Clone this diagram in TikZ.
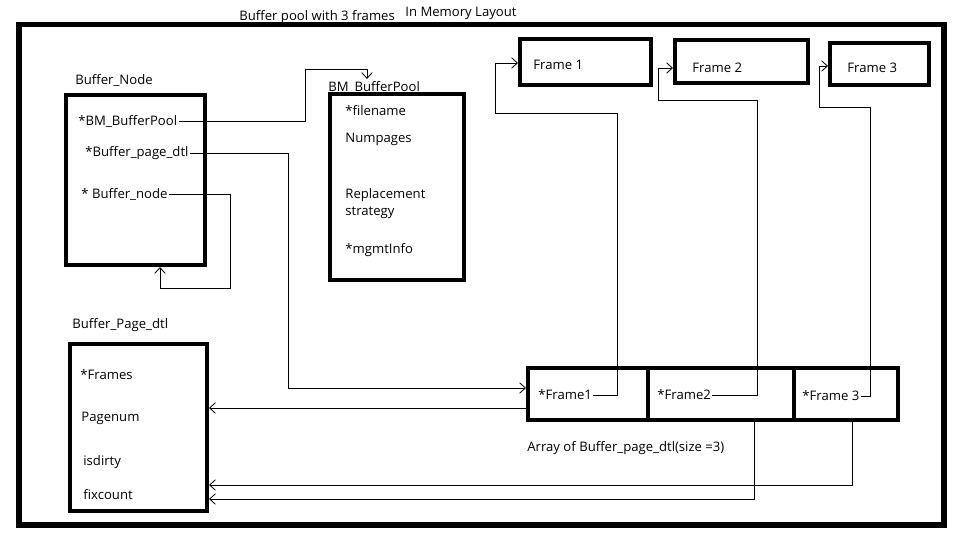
\documentclass[tikz,border=0pt]{standalone}
\usepackage{fontspec}
\setmainfont{Open Sans}
\usetikzlibrary{fit,arrows.meta}

\tikzset{
  box/.style={draw,line width=3.4pt,inner sep=0pt},
  txt/.style={anchor=west,inner sep=1pt,font=\fontsize{11.2}{13}\selectfont},
  ptr/.style={line width=0.7pt,-{Straight Barb[length=5pt,width=9pt]}}
}

\begin{document}
\begin{tikzpicture}[x=0.03cm,y=-0.03cm]
  \useasboundingbox (0,0) rectangle (960,540);
  \draw[line width=4.4pt] (19,24.5) rectangle (944,525);

  \node[txt] (title) at (238,17) {Buffer pool with 3 frames};
  \node[txt] (layout) at (404,13) {In Memory Layout};

  % Buffer_Node
  \node[txt] (bnlabel) at (74,80) {Buffer\_Node};
  \node[box,fit={(66,95) (205,265)}] (bnode) {};
  \node[txt] (bmp) at (77,121) {*BM\_BufferPool};
  \node[txt] (bpd) at (84,153) {*Buffer\_page\_dtl};
  \node[txt] (bnd) at (80,194) {* Buffer\_node};

  % BM_BufferPool
  \node[txt] (bplabel) at (327,87) {BM\_BufferPool};
  \coordinate (bpin) at (367,79);
  \node[box,fit={(330,94) (464,280)}] (bpool) {};
  \node[txt] (fname) at (344,111) {*filename};
  \node[txt] (npages) at (344,139) {Numpages};
  \node[txt] (repl) at (344,195) {Replacement};
  \node[txt] (strat) at (344,213) {strategy};
  \node[txt] (mgmt) at (344,250) {*mgmtInfo};

  % frames
  \node[box,fit={(520,39) (651,85)}] (frame1) {};
  \node[box,fit={(675,40) (808,83)}] (frame2) {};
  \node[box,fit={(830,43) (929,85)}] (frame3) {};
  \node[txt] (f1) at (532,65) {Frame 1};
  \node[txt] (f2) at (691,68) {Frame 2};
  \node[txt] (f3) at (846,68) {Frame 3};

  % Buffer_Page_dtl
  \node[txt] (pdlabel) at (71,325) {Buffer\_Page\_dtl};
  \node[box,fit={(70,344) (207,511)}] (pdbox) {};
  \node[txt] (frames) at (79,375) {*Frames};
  \node[txt] (pnum) at (80,418) {Pagenum};
  \node[txt] (dirty) at (82,462) {isdirty};
  \node[txt] (fix) at (82,495) {fixcount};

  % array of Buffer_page_dtl
  \node[box,fit={(528,368) (648,420)}] (cell1) {};
  \node[box,fit={(648,368) (794,420)}] (cell2) {};
  \node[box,fit={(794,368) (898,420)}] (cell3) {};
  \node[txt] (fr1p) at (537,395) {*Frame1};
  \node[txt] (fr2p) at (656,395) {*Frame2};
  \node[txt] (fr3p) at (801,396) {*Frame 3};
  \node[txt] (arrlabel) at (526,448) {Array of Buffer\_page\_dtl(size =3)};

  \draw[ptr] (bmp.east) -| (305,69) -| (bpin);
  \draw[ptr] (bpd.east) -| (288,388) -- (cell1.west |- 0,388);
  \draw[ptr] (bnd.east) -| (230,288) -| (160,0 |- bnode.south);
  \draw[ptr] (cell1.west |- 0,408) -- (pdbox.east |- 0,408);
  \draw[ptr] (fr1p.east) -| (617,113) -| (495,63) -- (frame1.west |- 0,63);
  \draw[ptr] (fr2p.east) -| (757,100) -| (658,68) -- (frame2.west |- 0,68);
  \draw[ptr] (fr3p.east) -| (870,107) -| (819,66) -- (frame3.west |- 0,66);
  \draw[ptr] (cell2.south -| 754,0) |- (pdbox.east |- 0,499);
  \draw[ptr] (cell3.south -| 852,0) |- (pdbox.east |- 0,485);
\end{tikzpicture}
\end{document}
